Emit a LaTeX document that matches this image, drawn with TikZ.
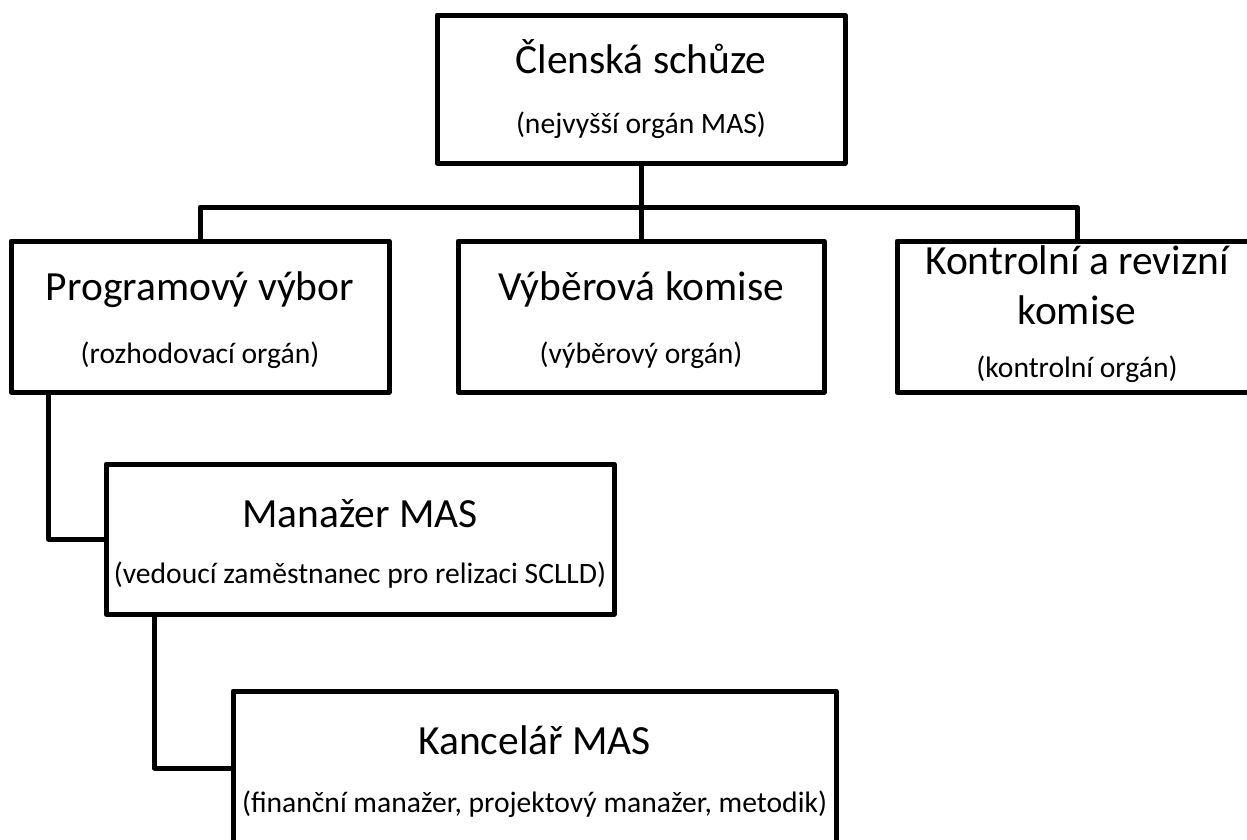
\documentclass[tikz,border=0pt]{standalone}
\usepackage{fontspec}
\setmainfont{Carlito}
\begin{document}
\begin{tikzpicture}[x=1pt,y=-1pt,
  box/.style={draw=black, line width=5pt, line join=round, rectangle, inner sep=0pt},
  conn/.style={draw=black, line width=5pt, line join=round},
  ttl/.style={anchor=base, inner sep=0pt, font=\fontsize{41.5}{50}\selectfont},
  sub/.style={anchor=base, inner sep=0pt, font=\fontsize{29.6}{35}\selectfont}]
\useasboundingbox (0,0) rectangle (1247,839);
% boxes
\node[box, minimum width=408pt, minimum height=148pt] (top) at (641,89) {};
\node[box, minimum width=378pt, minimum height=151pt] (prog) at (200,316.5) {};
\node[box, minimum width=366pt, minimum height=151pt] (vyber) at (641,316.5) {};
\node[box, minimum width=360pt, minimum height=151pt] (kontrol) at (1077,316.5) {};
\node[box, minimum width=508pt, minimum height=150pt] (man) at (360,539) {};
\node[box, minimum width=603pt, minimum height=154pt] (kanc) at (534.5,768) {};
% texts
\node[ttl] (topT) at (641,73) {Členská schůze};
\node[sub] (topS) at (641,133) {(nejvyšší orgán MAS)};
\node[ttl] (progT) at (200,300) {Programový výbor};
\node[sub] (progS) at (200,363) {(rozhodovací orgán)};
\node[ttl] (vyberT) at (641,300) {Výběrová komise};
\node[sub] (vyberS) at (641,363) {(výběrový orgán)};
\node[ttl] (kontrolT) at (1077,274) {Kontrolní a revizní};
\node[ttl] (kontrolU) at (1077,324) {komise};
\node[sub] (kontrolS) at (1077,377) {(kontrolní orgán)};
\node[ttl] (manT) at (360,527) {Manažer MAS};
\node[sub] (manS) at (360,583) {(vedoucí zaměstnanec pro relizaci SCLLD)};
\node[ttl] (kancT) at (534.5,754) {Kancelář MAS};
\node[sub] (kancS) at (534.5,812) {(finanční manažer, projektový manažer, metodik)};
% connectors
\coordinate (bus) at (641,207);
\draw[conn] (top.south) -- (vyber.north);
\draw[conn] (prog.north) |- (bus) -| (kontrol.north);
\draw[conn] ([xshift=40pt]prog.south west) |- (man.west);
\draw[conn] ([xshift=51pt]man.south west) |- (kanc.west);
\end{tikzpicture}
\end{document}
